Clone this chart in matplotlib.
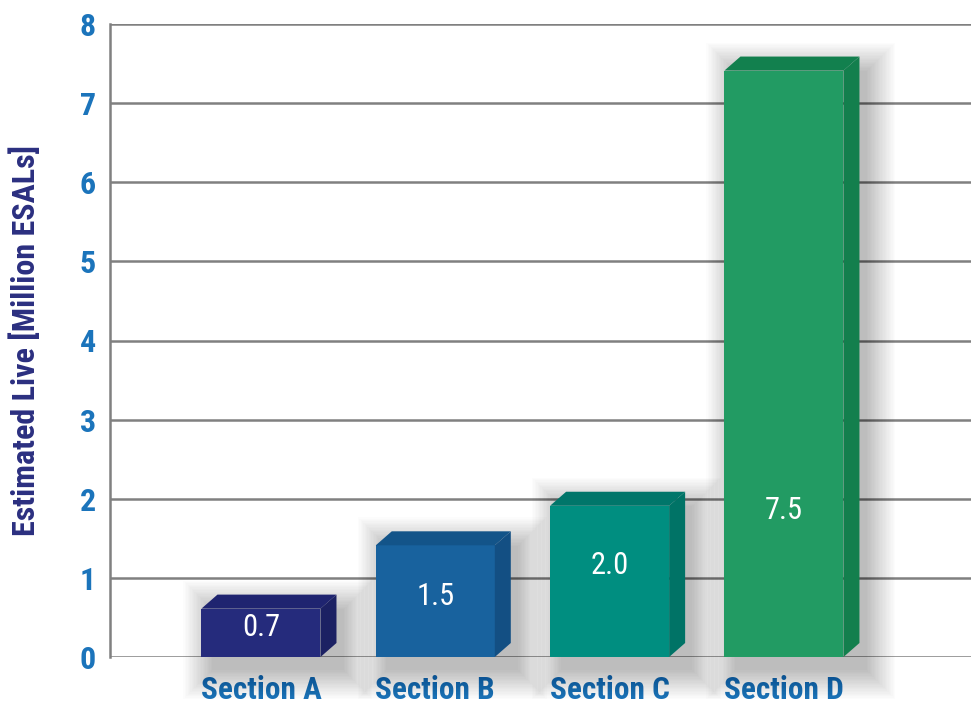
import matplotlib
matplotlib.use("Agg")
import matplotlib.pyplot as plt
from matplotlib.patches import Polygon, Rectangle

categories = ["Section A", "Section B", "Section C", "Section D"]
values = [0.7, 1.5, 2.0, 7.5]
label_y = [0.37, 0.77, 1.16, 1.85]
yticks = [0, 1, 2, 3, 4, 5, 6, 7, 8]
front_colors = ["#252b7c", "#18629e", "#008e80", "#229b63"]
top_colors = ["#1f2470", "#135489", "#00766a", "#12804e"]
side_colors = ["#1c2163", "#134f83", "#007366", "#137f4d"]

fam = ["Roboto Condensed", "DejaVu Sans"]

W, H = 971, 706
fig = plt.figure(figsize=(W / 100, H / 100), dpi=100)
ax = fig.add_axes([110 / W, 49 / H, 861 / W, 633 / H])
ax.set_xlim(-0.866, 4.073)
ax.set_ylim(0, 8)

pxx = 1 / 174.3
pxy = 8 / 633
width = 119 * pxx
dx = 16 * pxx
dy = 14 * pxy

ax.set_yticks(yticks)
ax.yaxis.grid(True, color="#808080", lw=1.8, zorder=0)
ax.set_axisbelow(True)
for s in ["top", "right", "bottom"]:
    ax.spines[s].set_visible(False)
ax.spines["left"].set_color("#808080")
ax.spines["left"].set_linewidth(1.8)

xs = list(range(len(categories)))
for i, (x, v) in enumerate(zip(xs, values)):
    top = v - dy / 2
    xl = x - width / 2
    xr = x + width / 2
    # soft shadow
    n = 22
    for k in range(n):
        e = 30 * (k + 1) / n
        ax.add_patch(Rectangle((xl - e * pxx + 12 * pxx, -e * pxy - 12 * pxy),
                               width + dx + 2 * e * pxx - 6 * pxx, top + dy + 2 * e * pxy - 4 * pxy,
                               facecolor="black", edgecolor="none", alpha=0.011,
                               zorder=1, clip_on=False))
    # front
    ax.add_patch(Rectangle((xl, 0), width, top, facecolor=front_colors[i],
                           edgecolor="none", zorder=3))
    # top
    ax.add_patch(Polygon([(xl, top), (xr, top), (xr + dx, top + dy), (xl + dx, top + dy)],
                         closed=True, facecolor=top_colors[i], edgecolor="none", zorder=3))
    # side
    ax.add_patch(Polygon([(xr, 0), (xr + dx, dy), (xr + dx, top + dy), (xr, top)],
                         closed=True, facecolor=side_colors[i], edgecolor="none", zorder=3))
    ax.text(x, label_y[i], f"{v:.1f}", color="white", ha="center", va="center",
            fontsize=22, family=fam, fontweight="normal", zorder=5)

ax.set_xticks(xs)
ax.set_xticklabels(categories)
ax.tick_params(axis="x", length=0, pad=13, labelsize=22.5, labelcolor="#1b74bb")
ax.tick_params(axis="y", length=0, pad=10, labelsize=23, labelcolor="#1b74bb")
for lab in ax.get_xticklabels() + ax.get_yticklabels():
    lab.set_family(fam)
    lab.set_fontweight("bold")

fig.text(25 / W, 1 - 341 / H, "Estimated Live [Million ESALs]", rotation=90,
         ha="center", va="center", fontsize=23, color="#2b2f80",
         family=fam, fontweight="bold")

fig.savefig("out.png", dpi=100, facecolor="white")
